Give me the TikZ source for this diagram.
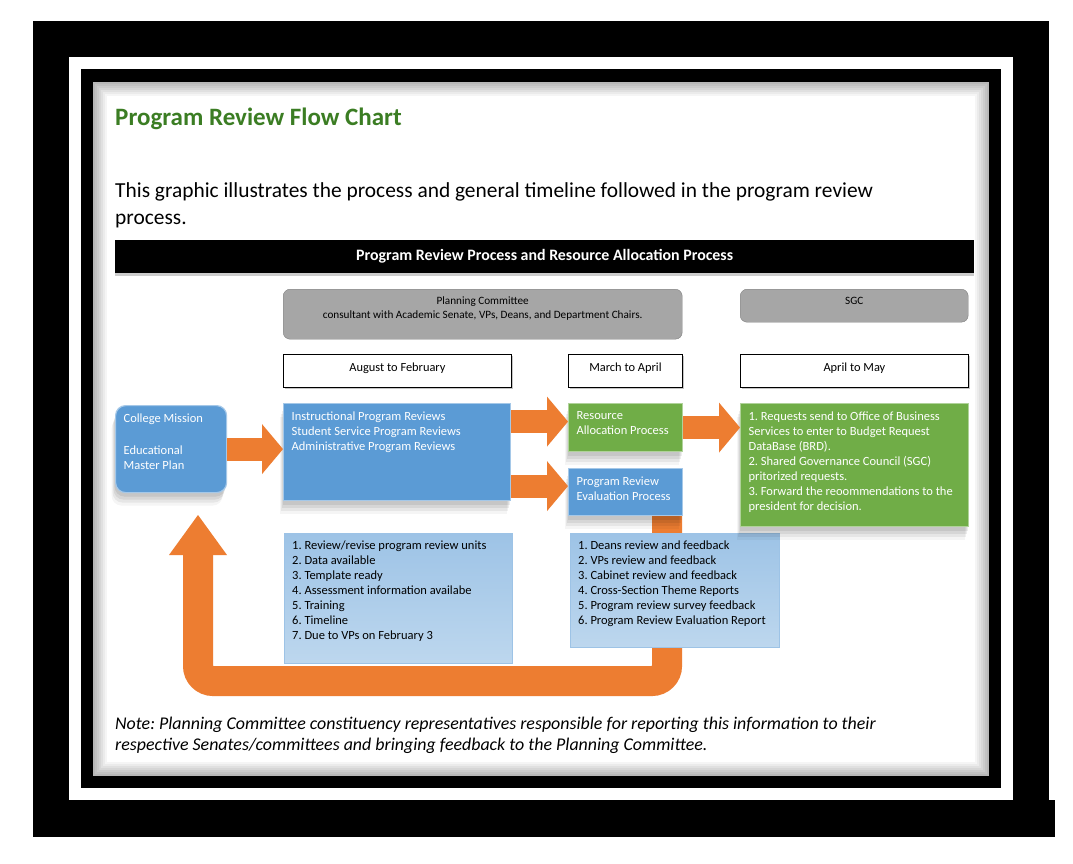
\documentclass[tikz,border=0pt]{standalone}
\usepackage{fontspec}
\setmainfont{Carlito}
\usetikzlibrary{arrows.meta,shadows}
\frenchspacing

\definecolor{revblue}{HTML}{5B9BD5}
\definecolor{revgreen}{HTML}{70AD47}
\definecolor{revorange}{HTML}{ED7D31}
\definecolor{revgray}{HTML}{A6A6A6}
\definecolor{revlight}{HTML}{9DC3E6}
\definecolor{revpale}{HTML}{BDD7EE}
\definecolor{revtitle}{HTML}{3B7D23}

% fixed-size text block, top aligned
\newcommand{\boxpar}[3]{\parbox[t][#2][t]{#1}{\raggedright #3}}

\tikzset{
  cardshadow/.style={
    drop shadow={shadow xshift=-1pt, shadow yshift=-4pt, opacity=0.07, fill=black},
    drop shadow={shadow xshift=-2pt, shadow yshift=-7pt, opacity=0.07, fill=black},
    drop shadow={shadow xshift=-3pt, shadow yshift=-10pt, opacity=0.06, fill=black},
    drop shadow={shadow xshift=-4pt, shadow yshift=-13pt, opacity=0.04, fill=black}},
  bluebox/.style={fill=revblue, draw=revblue!55!white, line width=1.2pt, text=white,
    font=\fontsize{12.5}{15}\selectfont, inner sep=8pt, anchor=north west, cardshadow},
  greenbox/.style={bluebox, fill=revgreen, draw=revgreen!55!white},
  listbox/.style={top color=revlight, bottom color=revpale, draw=revlight, text=black,
    font=\fontsize{12.5}{15}\selectfont, inner sep=8pt, anchor=north west},
  graybox/.style={fill=revgray, draw=black!50, rounded corners=7pt,
    font=\fontsize{11.2}{14}\selectfont, inner sep=8pt, anchor=north west},
  datebox/.style={fill=white, draw=black, line width=0.9pt, font=\fontsize{12.4}{14}\selectfont,
    inner sep=8pt, anchor=north west, drop shadow={shadow xshift=2pt, shadow yshift=-2pt, opacity=0.45}},
  flow/.style={draw=revorange, line width=23pt, -{Triangle[width=50pt,length=21pt,line width=0pt]}},
  backflow/.style={draw=revorange, line width=30pt, rounded corners=15pt,
    -{Triangle[width=58pt,length=40pt,line width=0pt]}},
}

\begin{document}
\begin{tikzpicture}[x=1pt, y=-1pt]
  \useasboundingbox (0,0) rectangle (1073,864);

  % frame and page
  \fill[black] (33,21) rectangle (1049,837);
  \fill[black] (1049,800) rectangle (1055,837);
  \fill[white] (69,57) rectangle (1013,800);
  \fill[black] (81,69) rectangle (1001,788);
  \fill[white] (93,82) rectangle (989,776);
  \foreach \i [evaluate=\i as \op using 0.28-0.04*\i] in {0,...,6}
    \draw[black, opacity=\op, line width=2pt] (94+2*\i,83+2*\i) rectangle (988-2*\i,775-2*\i);

  % heading and intro
  \node[anchor=base west, inner sep=0pt, text=revtitle, font=\bfseries\fontsize{25}{30}\selectfont] (title) at (115,126) {Program Review Flow Chart};
  \node[anchor=north west, inner sep=0pt, align=left, font=\fontsize{21.4}{27}\selectfont] (intro) at (115,182)
    {This graphic illustrates the process and general timeline followed in the program review\\process.};

  \node[anchor=north west, fill=black, minimum width=859pt, minimum height=33pt, inner sep=0pt, text=white,
    font=\bfseries\fontsize{15.9}{18}\selectfont, drop shadow={shadow xshift=0pt, shadow yshift=-3pt, opacity=0.4}] (banner) at (115,240)
    {Program Review Process and Resource Allocation Process};

  % who and when
  \node[graybox] (plan) at (283,289) {\boxpar{383pt}{34pt}{\centering Planning Committee\\consultant with Academic Senate, VPs, Deans, and Department Chairs.}};
  \node[graybox] (sgc) at (740,289) {\boxpar{212pt}{17pt}{\centering SGC}};
  \node[datebox] (aug) at (283,354) {\boxpar{212pt}{17pt}{\centering August to February}};
  \node[datebox] (mar) at (568,354) {\boxpar{98pt}{17pt}{\centering March to April}};
  \node[datebox] (apr) at (740,354) {\boxpar{212pt}{17pt}{\centering April to May}};

  % return arrow, behind the lists
  \coordinate (ubr) at (667,681);
  \coordinate (ubl) at (198,681);
  \coordinate (utip) at (198,515);
  \node[anchor=north west, inner sep=0pt, minimum width=114pt, minimum height=47pt] (preslot) at (568,468) {};
  \draw[backflow] (preslot.south -| ubr) -- (ubr) -- (ubl) -- (utip);

  \node[listbox] (steps) at (284,533) {\boxpar{212pt}{114pt}{1. Review/revise program review units\\2. Data available\\3. Template ready\\4. Assessment information availabe\\5. Training\\6. Timeline\\7. Due to VPs on February 3}};
  \node[listbox] (deans) at (570,533) {\boxpar{193pt}{98pt}{1. Deans review and feedback\\2. VPs review and feedback\\3. Cabinet review and feedback\\4. Cross-Section Theme Reports\\5. Program review survey feedback\\6. Program Review Evaluation Report}};

  % process boxes
  \node[bluebox, rounded corners=10pt] (cm) at (115,405) {\boxpar{95pt}{71pt}{College Mission\\[17pt]Educational\\Master Plan}};
  \node[bluebox] (ipr) at (283,403) {\boxpar{211pt}{81pt}{Instructional Program Reviews\\Student Service Program Reviews\\Administrative Program Reviews}};
  \node[greenbox] (rap) at (568,403) {\boxpar{98pt}{32pt}{Resource\\Allocation Process}};
  \node[bluebox] (pre) at (568,468) {\boxpar{98pt}{31pt}{Program Review\\Evaluation Process}};
  \node[greenbox] (req) at (740,403) {\boxpar{212pt}{107pt}{1. Requests send to Office of Business\\Services to enter to Budget Request\\DataBase (BRD).\\2. Shared Governance Council (SGC)\\pritorized requests.\\3. Forward the reoommendations to the\\president for decision.}};

  % forward arrows
  \coordinate (rin) at ([yshift=6pt]rap.west);
  \coordinate (pin) at ([yshift=6pt]pre.west);
  \draw[flow] (cm.east) -- (cm.east -| ipr.west);
  \draw[flow] (ipr.east |- rin) -- (rin);
  \draw[flow] (ipr.east |- pin) -- (pin);
  \draw[flow] (rap.east) -- (rap.east -| req.west);

  \node[anchor=north west, inner sep=0pt, align=left, font=\itshape\fontsize{17.9}{21}\selectfont] (note) at (115,717)
    {Note: Planning Committee constituency representatives responsible for reporting this information to their\\respective Senates/committees and bringing feedback to the Planning Committee.};
\end{tikzpicture}
\end{document}
